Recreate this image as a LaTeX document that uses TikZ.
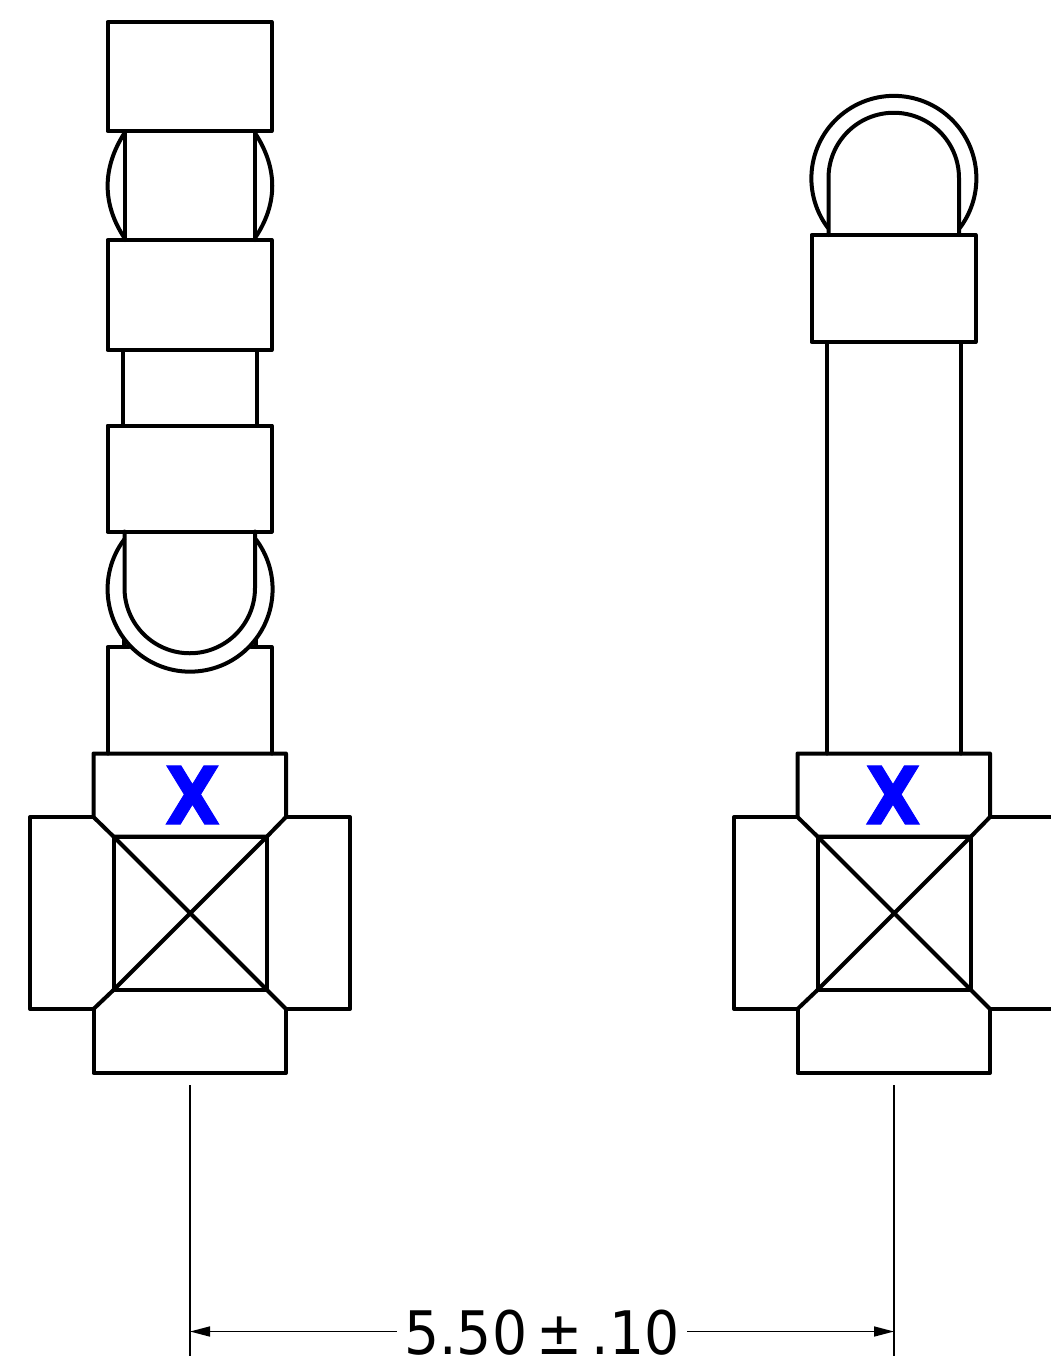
\documentclass[tikz,border=0pt]{standalone}
\usepackage{fontspec}
\setmainfont{DejaVu Sans}
\newfontfamily\markfont[FakeBold=1.2]{DejaVu Sans Bold}
\usetikzlibrary{arrows.meta}
\tikzset{
  part/.style={line width=4pt,line join=round,line cap=round,black},
  thinline/.style={line width=1.6pt,black},
  dimarrow/.style={-{Triangle[length=20pt,width=10pt]}},
  markx/.style={text=blue,inner sep=0pt,font=\markfont\fontsize{80}{80}\selectfont,xscale=0.9},
  crossbox/.pic={
    \draw[part] (-96.5,-159.5) -- (96,-159.5) -- (96,-96) -- (77,-76.5) -- (-76.5,-76.5) -- (-96.5,-96) -- cycle;
    \draw[part] (-96.5,-96) -- (-160,-96) -- (-160,96) -- (-96.5,96);
    \draw[part] (96,-96) -- (160,-96) -- (160,96) -- (96,96);
    \draw[part] (-96.5,96) -- (-96.5,160) -- (96,160) -- (96,96);
    \draw[part] (-76.5,-76.5) rectangle (77,77);
    \draw[part] (-76.5,-76.5) -- (77,77) (-76.5,77) -- (77,-76.5);
    \draw[part] (-76.5,77) -- (-96.5,96) (77,77) -- (96,96);
  }
}
\begin{document}
\begin{tikzpicture}[x=1pt,y=-1pt]
\useasboundingbox (0,0) rectangle (1051,1369);
% left assembly
\draw[part] (107.5,22) rectangle (271.5,131);
\draw[part] (124.5,131) -- (124.5,240) (255,131) -- (255,240);
\draw[part] (124.5,133) .. controls (102,168) and (102,204) .. (124.5,238);
\draw[part] (255,133) .. controls (278,168) and (278,204) .. (255,238);
\draw[part] (107.5,240) rectangle (271.5,350);
\draw[part] (123,350) -- (123,425.5) (257,350) -- (257,425.5);
\draw[part] (107.5,425.5) rectangle (271.5,531.5);
\draw[part] (124.5,531.5) -- (124.5,588) arc[start angle=180,end angle=360,x radius=65.25,y radius=-65.25] -- (255,531.5);
\draw[part] (124.2,539.5) arc[start angle=217,end angle=-37,radius=82.5];
\draw[part] (124,640) -- (124,647);
\draw[part] (256,640) -- (256,647);
\draw[part] (129,647) -- (107.5,647) -- (107.5,753.5);
\draw[part] (251,647) -- (271.5,647) -- (271.5,753.5);
\pic at (190,913) {crossbox};
\node[markx] (markL) at (192.5,795) {X};
% right assembly
\draw[part] (828,228) arc[start angle=143,end angle=397,radius=82.5];
\draw[part] (828.5,235) -- (828.5,178) arc[start angle=180,end angle=360,radius=65.25] -- (959,235);
\draw[part] (811.5,235) rectangle (975.5,342);
\draw[part] (827,342) -- (827,753.5) (961,342) -- (961,753.5);
\begin{scope}
\clip (700,740) rectangle (1051,1090);
\pic at (894,913) {crossbox};
\end{scope}
\node[markx] (markR) at (893,795) {X};
% dimension
\coordinate (e1a) at (190,1085);
\coordinate (e1b) at (190,1356);
\coordinate (e2a) at (894,1085);
\coordinate (e2b) at (894,1356);
\coordinate (d1) at (190,1331.5);
\coordinate (d2) at (894,1331.5);
\draw[thinline] (e1a) -- (e1b);
\draw[thinline] (e2a) -- (e2b);
\node[inner sep=0pt,minimum width=290pt,minimum height=60pt,font=\fontsize{60}{60}\selectfont] (dim) at (542,1333) {\scalebox{0.92}[1]{5.50\,±\,.10}};
\draw[thinline,dimarrow] (d1-|dim.west) -- (d1);
\draw[thinline,dimarrow] (d2-|dim.east) -- (d2);
\end{tikzpicture}
\end{document}
